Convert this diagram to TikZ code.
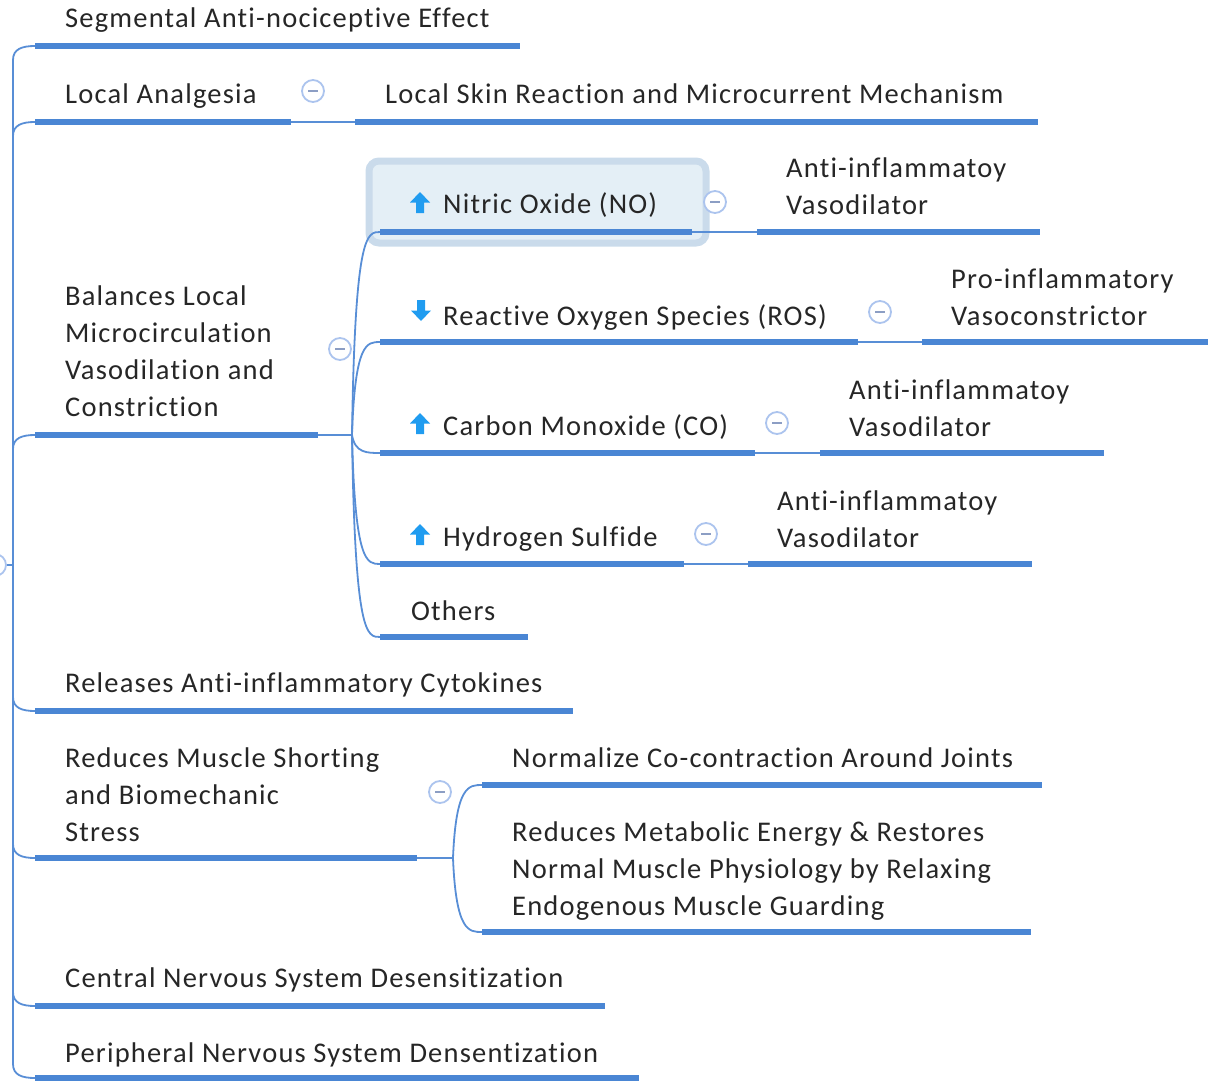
\documentclass[tikz,border=0pt]{standalone}
\usepackage{fontspec}
\setmainfont{Carlito}[LetterSpace=4.2, Ligatures={NoCommon}]
\definecolor{ulblue}{RGB}{74,134,212}
\definecolor{lnblue}{RGB}{88,142,214}
\definecolor{ringblue}{RGB}{172,196,238}
\definecolor{minusgrey}{RGB}{140,158,196}
\definecolor{iconblue}{RGB}{32,156,240}
\definecolor{hlfill}{RGB}{228,239,246}
\definecolor{hlborder}{RGB}{202,219,235}
\definecolor{txt}{RGB}{38,38,38}
\tikzset{
  uline/.style={line width=6pt, draw=ulblue},
  thinline/.style={line width=1.8pt, draw=lnblue},
  % base anchor of a multi-line label sits on its last line
  lbl/.style={anchor=base west, inner sep=0pt, text=txt, align=left,
              font=\fontsize{28.5}{37}\selectfont},
  collapse/.pic={
    \draw[line width=1.8pt, draw=ringblue, fill=white] (0,0) circle (11);
    \draw[line width=2pt, draw=minusgrey] (-5,0) -- (5,0);
  },
  upicon/.pic={
    \fill[iconblue] (0,0) -- (10,10.5) -- (4,10.5) -- (4,21) -- (-4,21)
      -- (-4,10.5) -- (-10,10.5) -- cycle;
  },
  downicon/.pic={
    \fill[iconblue] (0,21) -- (10,10.5) -- (4,10.5) -- (4,0) -- (-4,0)
      -- (-4,10.5) -- (-10,10.5) -- cycle;
  },
}
\begin{document}
\begin{tikzpicture}[x=1pt,y=-1pt]
\useasboundingbox (0,0) rectangle (1208,1081);

% highlight frame of the selected topic
\draw[rounded corners=10pt, line width=7pt, draw=hlborder, fill=hlfill]
  (369,161) rectangle (706,243);

% root and trunk
\coordinate (root) at (13,565);
\draw[thinline] (-4,565) -- (root);
\pic at (-5,565) {collapse};

% underline end points of the main topics
\coordinate (t1a) at (35,46);   \coordinate (t1b) at (520,46);
\coordinate (t2a) at (35,122);  \coordinate (t2b) at (291,122);
\coordinate (t3a) at (35,435);  \coordinate (t3b) at (318,435);
\coordinate (t4a) at (35,711);  \coordinate (t4b) at (573,711);
\coordinate (t5a) at (35,858);  \coordinate (t5b) at (417,858);
\coordinate (t6a) at (35,1006); \coordinate (t6b) at (605,1006);
\coordinate (t7a) at (35,1078); \coordinate (t7b) at (639,1078);

% trunk branches: vertical run, rounded bend into each underline
\foreach \t in {t1a,t2a,t3a} {
  \draw[thinline] (root) -- ([yshift=-14pt]\t -| root)
    .. controls ([yshift=-3pt]\t -| root) and ([xshift=-13pt]\t) .. (\t);
}
\foreach \t in {t4a,t5a,t6a,t7a} {
  \draw[thinline] (root) -- ([yshift=14pt]\t -| root)
    .. controls ([yshift=3pt]\t -| root) and ([xshift=-13pt]\t) .. (\t);
}

% main topics
\node[lbl] (t1) at (65,28) {Segmental Anti-nociceptive Effect};
\draw[uline] (t1a) -- (t1b);

\node[lbl] (t2) at (65,103) {Local Analgesia};
\draw[uline] (t2a) -- (t2b);

\node[lbl] (t3) at (65,416) {Balances Local\\Microcirculation\\Vasodilation and\\Constriction};
\draw[uline] (t3a) -- (t3b);

\node[lbl] (t4) at (65,692) {Releases Anti-inflammatory Cytokines};
\draw[uline] (t4a) -- (t4b);

\node[lbl] (t5) at (65,841) {Reduces Muscle Shorting\\and Biomechanic\\Stress};
\draw[uline] (t5a) -- (t5b);

\node[lbl] (t6) at (65,987) {Central Nervous System Desensitization};
\draw[uline] (t6a) -- (t6b);

\node[lbl] (t7) at (65,1062) {Peripheral Nervous System Densentization};
\draw[uline] (t7a) -- (t7b);

% Local Analgesia -> Local Skin Reaction
\coordinate (lsa) at (355,122); \coordinate (lsb) at (1038,122);
\draw[thinline] (t2b) -- (lsa);
\node[lbl] (ls) at (385,103) {Local Skin Reaction and Microcurrent Mechanism};
\draw[uline] (lsa) -- (lsb);
\pic at (313,91) {collapse};

% Balances Local Microcirculation -> mediators
\coordinate (j3) at (352,435);
\draw[thinline] (t3b) -- (j3);
\pic at (340,349) {collapse};

\coordinate (noa) at (380,232);  \coordinate (nob) at (692,232);
\coordinate (rsa) at (380,342);  \coordinate (rsb) at (858,342);
\coordinate (coa) at (380,453);  \coordinate (cob) at (755,453);
\coordinate (hsa) at (380,564);  \coordinate (hsb) at (684,564);
\coordinate (ota) at (380,637);  \coordinate (otb) at (528,637);

\foreach \e in {noa,rsa,coa,hsa,ota} {
  \draw[thinline] (j3) .. controls ([xshift=3pt]j3 |- \e) and ([xshift=-13pt]\e) .. (\e);
}

\pic at (420,192) {upicon};
\node[lbl] (no) at (443,213) {Nitric Oxide (NO)};
\draw[uline] (noa) -- (nob);

\pic at (421,300) {downicon};
\node[lbl] (rs) at (443,325) {Reactive Oxygen Species (ROS)};
\draw[uline] (rsa) -- (rsb);

\pic at (420,413) {upicon};
\node[lbl] (co) at (443,435) {Carbon Monoxide (CO)};
\draw[uline] (coa) -- (cob);

\pic at (420,524) {upicon};
\node[lbl] (hs) at (443,546) {Hydrogen Sulfide};
\draw[uline] (hsa) -- (hsb);

\node[lbl] (ot) at (411,620) {Others};
\draw[uline] (ota) -- (otb);

% effects of each mediator
\coordinate (nea) at (757,232);  \coordinate (neb) at (1040,232);
\draw[thinline] (nob) -- (nea);
\node[lbl] (ne) at (786,214) {Anti-inflammatoy\\Vasodilator};
\draw[uline] (nea) -- (neb);
\pic at (715,202) {collapse};

\coordinate (rea) at (922,342);  \coordinate (reb) at (1212,342);
\draw[thinline] (rsb) -- (rea);
\node[lbl] (re) at (951,325) {Pro-inflammatory\\Vasoconstrictor};
\draw[uline] (rea) -- (reb);
\pic at (880,312) {collapse};

\coordinate (cea) at (820,453);  \coordinate (ceb) at (1104,453);
\draw[thinline] (cob) -- (cea);
\node[lbl] (ce) at (849,436) {Anti-inflammatoy\\Vasodilator};
\draw[uline] (cea) -- (ceb);
\pic at (777,423) {collapse};

\coordinate (hea) at (748,564);  \coordinate (heb) at (1032,564);
\draw[thinline] (hsb) -- (hea);
\node[lbl] (he) at (777,547) {Anti-inflammatoy\\Vasodilator};
\draw[uline] (hea) -- (heb);
\pic at (706,534) {collapse};

% Reduces Muscle Shorting -> sub-topics
\coordinate (j5) at (453,858);
\draw[thinline] (t5b) -- (j5);
\pic at (440,792) {collapse};

\coordinate (nca) at (482,785);  \coordinate (ncb) at (1042,785);
\coordinate (rma) at (482,932);  \coordinate (rmb) at (1031,932);
\foreach \e in {nca,rma} {
  \draw[thinline] (j5) .. controls ([xshift=3pt]j5 |- \e) and ([xshift=-13pt]\e) .. (\e);
}

\node[lbl] (nc) at (512,767) {Normalize Co-contraction Around Joints};
\draw[uline] (nca) -- (ncb);

\node[lbl] (rm) at (512,915) {Reduces Metabolic Energy \& Restores\\Normal Muscle Physiology by Relaxing\\Endogenous Muscle Guarding};
\draw[uline] (rma) -- (rmb);
\end{tikzpicture}
\end{document}
